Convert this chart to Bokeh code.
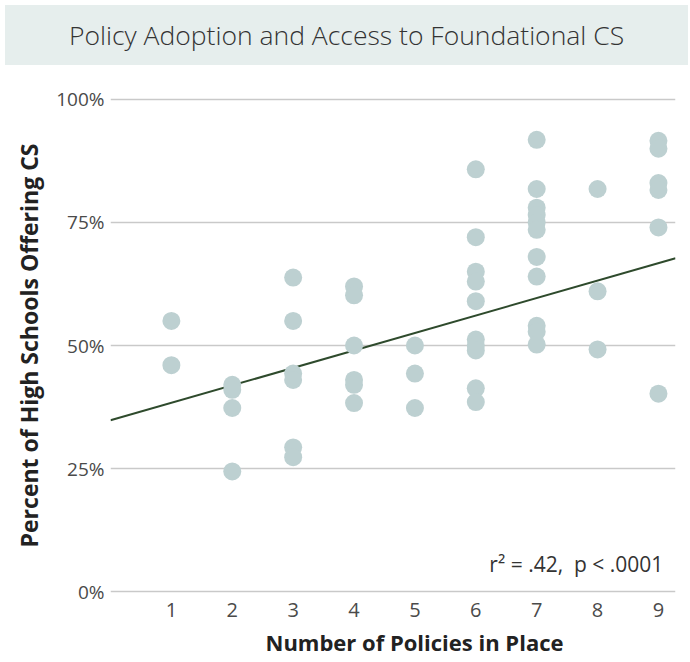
from bokeh.plotting import figure
from bokeh.models import Range1d, FixedTicker, Label, Div, Title
from bokeh.layouts import column
from bokeh.embed import file_html
from bokeh.resources import INLINE

# ---- data ----
policies_1 = [55.0, 46.0]
policies_2 = [42.0, 41.0, 37.3, 24.4]
policies_3 = [63.8, 55.0, 44.3, 43.0, 29.3, 27.3]
policies_4 = [62.0, 60.2, 50.0, 43.0, 42.0, 38.3]
policies_5 = [50.0, 44.3, 37.3]
policies_6 = [85.8, 72.0, 65.0, 63.0, 59.0, 51.2, 50.0, 49.0, 41.3, 38.5]
policies_7 = [91.8, 81.8, 78.0, 76.5, 75.0, 73.5, 68.0, 64.0, 54.0, 52.8, 50.2]
policies_8 = [81.8, 61.0, 49.2]
policies_9 = [91.6, 90.0, 83.0, 81.6, 74.0, 40.2]
columns = [policies_1, policies_2, policies_3, policies_4, policies_5,
           policies_6, policies_7, policies_8, policies_9]
x_ticks = [1, 2, 3, 4, 5, 6, 7, 8, 9]
y_ticks = [0, 25, 50, 75, 100]
y_tick_labels = ["0%", "25%", "50%", "75%", "100%"]
trend_intercept = 34.8
trend_slope = 3.55
stats_text = "r\u00b2 = .42,\u00a0 p < .0001"
title_text = "Policy Adoption and Access to Foundational CS"
x_title = "Number of Policies in Place"
y_title = "Percent of High Schools Offering CS"

xs, ys = [], []
for n, vals in zip(x_ticks, columns):
    for v in vals:
        xs.append(n)
        ys.append(v)

FONT = "Open Sans"
X_MAX = 9.28

banner = Div(text=title_text, width=683, height=60,
             styles={"background-color": "#e6eeed", "font-family": FONT,
                     "font-size": "26.5px", "color": "#333333", "font-weight": "300",
                     "text-align": "center", "line-height": "60px",
                     "width": "683px", "height": "60px"})

p = figure(width=682, height=591, x_range=Range1d(0, X_MAX),
           y_range=Range1d(-0.8, 100.8), output_backend="svg",
           toolbar_location=None, min_border_left=110, min_border_right=7,
           min_border_top=25, min_border_bottom=64)
p.outline_line_color = None
p.background_fill_color = "white"

p.xgrid.grid_line_color = None
p.ygrid.grid_line_color = "#c9c9c9"
p.ygrid.grid_line_width = 1.5

p.yaxis.ticker = FixedTicker(ticks=y_ticks)
p.yaxis.major_label_overrides = {t: l for t, l in zip(y_ticks, y_tick_labels)}
p.xaxis.ticker = FixedTicker(ticks=x_ticks)
for ax in (p.xaxis, p.yaxis):
    ax.axis_line_color = None
    ax.major_tick_line_color = None
    ax.minor_tick_line_color = None
    ax.major_tick_out = 0
    ax.major_tick_in = 0
    ax.major_label_text_font = FONT
    ax.major_label_text_color = "#4a4a4a"
p.yaxis.major_label_text_font_size = "19px"
p.yaxis.major_label_standoff = 6
p.xaxis.major_label_text_font_size = "20px"
p.xaxis.major_label_standoff = 7

p.yaxis.axis_label = y_title
p.yaxis.axis_label_text_font = FONT
p.yaxis.axis_label_text_font_style = "bold"
p.yaxis.axis_label_text_font_size = "23px"
p.yaxis.axis_label_text_color = "#222222"
p.yaxis.axis_label_standoff = 8

x_title_obj = Title(text=x_title, align="left", offset=155,
                    text_font=FONT, text_font_style="bold",
                    text_font_size="22px", text_color="#222222",
                    text_line_height=1.0, standoff=10)
p.add_layout(x_title_obj, "below")

# trend line
p.line([0, X_MAX], [trend_intercept, trend_intercept + trend_slope * X_MAX],
       line_color="#2e4a2c", line_width=2)

p.scatter(xs, ys, size=18, fill_color="#bdd0d1", line_color=None)

p.add_layout(Label(x=9.08, y=5.5, text=stats_text, text_font=FONT,
                   text_font_size="21px", text_color="#333333",
                   text_align="right", text_baseline="middle"))

layout = column(banner, p)
open("out.html", "w").write(file_html(layout, INLINE))
